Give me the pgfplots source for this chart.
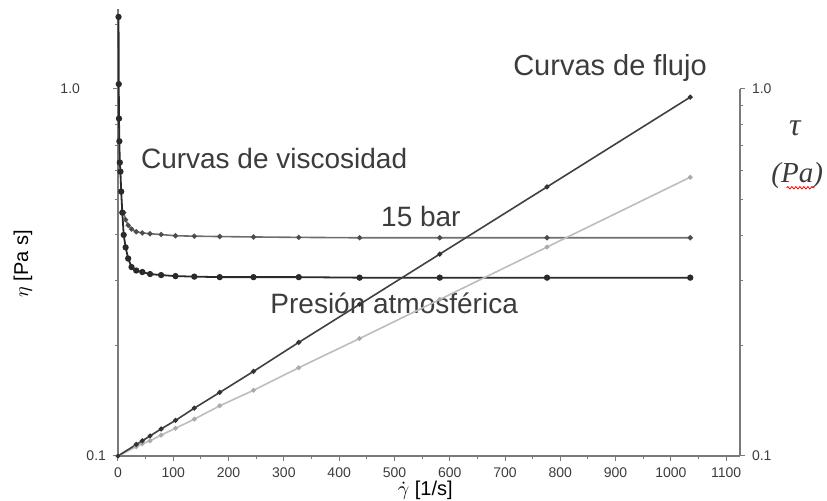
\documentclass[border=0pt]{standalone}
\usepackage{pgfplots}
\pgfplotsset{compat=1.18}
\usepackage{fontspec}
\setmainfont{Liberation Sans}
\newfontfamily\serifit{Liberation Serif}
\usetikzlibrary{decorations.pathmorphing}
\definecolor{txt}{HTML}{3C3C3C}
\definecolor{axgray}{HTML}{7A7A7A}
\definecolor{atm}{HTML}{2A2A2A}
\definecolor{bar}{HTML}{6E6E6E}
\definecolor{flowA}{HTML}{404040}
\definecolor{flowB}{HTML}{BDBDBD}
\begin{document}
\begin{tikzpicture}
\begin{axis}[name=main, scale only axis, width=311pt, height=223.5pt,
  clip=false,
  xmin=0, xmax=1125, ymode=log, ymin=0.1, ymax=1.65,
  /pgf/number format/assume math mode=true,
  /pgf/number format/1000 sep={},
  tick label style={font=\fontsize{7}{8}\selectfont, text=txt},
  axis line style={axgray, line width=0.7pt},
  tick style={axgray, line width=0.5pt},
  major tick length=2.5pt, minor tick length=1.6pt,
  tick align=outside,
  axis x line*=bottom, axis y line*=left,
  xtick={0,100,...,1100}, minor xtick={50,150,...,1050},
  ytick={0.1}, yticklabels={0.1},
  extra y ticks={1}, extra y tick labels={1.0},
  extra y tick style={yticklabel style={xshift=-13pt}},
  minor ytick={0.2,0.3,0.4,0.5,0.6,0.7,0.8,0.9,1.5},
  xlabel={$\dot{\gamma}$ [1/s]},
  ylabel={$\eta$ [Pa s]},
  label style={font=\fontsize{6}{7}\selectfont, text=txt, inner sep=0.3pt},
  every axis x label/.style={at={(axis description cs:0.494,-0.077)}, anchor=center},
  every axis y label/.style={at={(axis description cs:-0.153,0.43)}, rotate=90, anchor=center},
]
% 15 bar viscosity
\addplot[bar, line width=0.8pt, mark=*, mark size=0.85pt, mark options={fill=black!70, draw=black!70}] coordinates {
(10.3,0.46) (13.8,0.44) (18.4,0.425) (24.5,0.415) (33,0.408) (44,0.405) (58,0.403)
(78,0.401) (104,0.398) (138,0.397) (184,0.396) (245,0.395) (327,0.394) (437,0.393)
(582,0.393) (776,0.393) (1035,0.393)};
% atmospheric pressure viscosity
\addplot[atm, line width=0.9pt, mark=*, mark size=1.1pt, mark options={fill=atm, draw=atm}] coordinates {
(1.0,1.57) (1.4,1.03) (1.8,0.83) (2.5,0.72) (3.3,0.63) (4.4,0.595) (5.8,0.525)
(7.8,0.46) (10.3,0.40) (13.8,0.37) (18.4,0.345) (24.5,0.327) (33,0.32) (44,0.317)
(58,0.313) (78,0.311) (104,0.309) (138,0.308) (184,0.307) (245,0.307) (327,0.307)
(437,0.306) (582,0.306) (776,0.306) (1035,0.306)};
\node[font=\fontsize{14.5}{16}\selectfont, text=txt] at (rel axis cs:0.791,0.867) {Curvas de flujo};
\node[font=\fontsize{14}{16}\selectfont, text=txt] at (rel axis cs:0.251,0.666) {Curvas de viscosidad};
\node[font=\fontsize{14}{16}\selectfont, text=txt] at (rel axis cs:0.487,0.535) {15 bar};
\node[font=\fontsize{14}{16}\selectfont, text=txt] at (rel axis cs:0.444,0.341) {Presión atmosférica};
\node[font=\serifit\itshape\fontsize{16}{18}\selectfont, text=txt] at (rel axis cs:1.088,0.732) {τ};
\node[font=\serifit\itshape\fontsize{14.5}{16}\selectfont, text=txt] at (rel axis cs:1.092,0.628) {(Pa)};
\draw[red, line width=0.4pt, decorate, decoration={snake, amplitude=0.6pt, segment length=2pt}]
  (rel axis cs:1.075,0.600) -- (rel axis cs:1.120,0.600);
\end{axis}
\begin{axis}[at={(main.south west)}, anchor=south west,
  scale only axis, width=311pt, height=183.5pt,
  xmin=0, xmax=1125, ymode=log, ymin=0.1, ymax=1,
  /pgf/number format/assume math mode=true,
  tick label style={font=\fontsize{7}{8}\selectfont, text=txt},
  axis line style={axgray, line width=0.7pt},
  tick style={axgray, line width=0.5pt},
  major tick length=2.5pt, minor tick length=1.6pt,
  tick align=outside,
  axis y line*=right, axis x line=none,
  ytick={0.1,1}, yticklabels={0.1,1.0},
  minor ytick={0.2,0.3,0.4,0.5,0.6,0.7,0.8,0.9},
]
% flow curve (light)
\addplot[flowB, line width=0.8pt, mark=*, mark size=0.75pt, mark options={fill=flowB!90!black, draw=flowB!90!black}] coordinates {
(0,0.1) (33,0.106) (44,0.108) (58,0.110) (78,0.114) (104,0.119) (138,0.126) (184,0.137)
(245,0.151) (327,0.174) (437,0.209) (582,0.267) (776,0.371) (1035,0.575)};
% flow curve (dark)
\addplot[flowA, line width=0.8pt, mark=*, mark size=0.8pt, mark options={fill=black!80, draw=black!80}] coordinates {
(0,0.1) (33,0.1075) (44,0.110) (58,0.1134) (78,0.1185) (104,0.125) (138,0.135) (184,0.149)
(245,0.170) (327,0.204) (437,0.259) (582,0.355) (776,0.541) (1035,0.95)};
\end{axis}
\pgfresetboundingbox
\path[use as bounding box] ([xshift=-59pt,yshift=-22.5pt]main.south west) rectangle ([xshift=354.5pt,yshift=228pt]main.south west);
\end{tikzpicture}
\end{document}
